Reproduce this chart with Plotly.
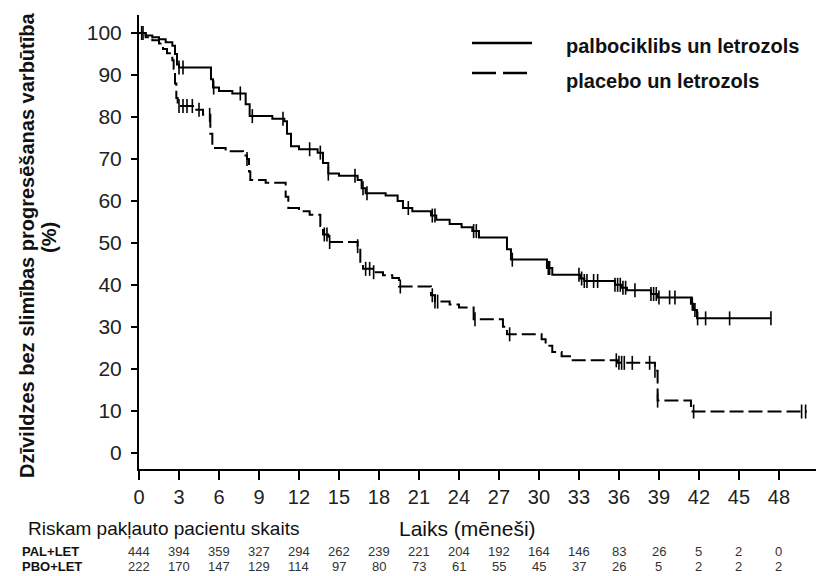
import numpy as np
import plotly.graph_objects as go

# ---------------- data ----------------
months_ticks = list(range(0, 49, 3))

pal_times = [0, 0.5, 1.0, 1.5, 2.0, 2.5, 2.7, 2.85, 3.0, 5.4, 5.55, 6.0, 7.0, 8.0, 8.3,
             10.0, 10.9, 11.1, 11.4, 12.0, 13.4, 13.8, 14.2, 15.0, 16.4, 16.7, 17.0,
             18.5, 19.4, 19.8, 20.5, 21.9, 22.3, 23.3, 24.2, 25.0, 25.5, 27.6, 27.9,
             30.6, 31.0, 33.1, 33.4, 35.7, 36.2, 36.6, 38.4, 38.9, 41.4, 41.6, 41.85, 47.4]
pal_surv = [100, 99.4, 99.0, 98.5, 97.8, 97.0, 95.0, 92.5, 91.8, 89.0, 87.0, 86.2, 85.6, 83.0, 80.2,
            79.6, 79.0, 76.0, 73.0, 72.3, 71.5, 69.0, 66.5, 66.0, 65.0, 63.0, 61.8,
            61.3, 60.0, 58.3, 57.5, 56.5, 55.5, 54.5, 53.7, 52.8, 51.3, 48.5, 46.0,
            44.0, 42.4, 41.5, 40.9, 40.0, 39.3, 38.7, 37.8, 37.0, 35.5, 34.0, 32.0, 32.0]
pal_censor = [0.2, 3.0, 3.3, 5.6, 7.6, 8.5, 10.8, 12.8, 13.6, 14.2, 16.2, 16.8, 17.1,
              20.2, 22.0, 22.2, 25.1, 25.3, 28.0, 30.7, 30.8, 33.0, 33.2, 33.4, 33.6,
              34.1, 34.4, 35.7, 35.9, 36.1, 36.3, 36.5, 37.2, 38.4, 38.6, 38.8, 39.0,
              39.8, 40.2, 41.5, 41.7, 41.9, 42.5, 44.3, 47.4]

pbo_times = [0, 0.5, 1.0, 1.5, 1.8, 2.1, 2.5, 2.6, 2.7, 2.8, 2.9, 4.3, 4.8, 5.35, 5.5,
             6.5, 7.8, 8.1, 8.25, 8.35, 9.5, 11.0, 11.2, 12.0, 12.8, 13.6, 13.8, 14.2,
             16.4, 16.6, 16.8, 17.5, 18.3, 19.0, 19.5, 21.9, 22.2, 23.3, 24.0, 25.1,
             27.3, 27.6, 30.2, 30.5, 31.0, 31.7, 32.4, 35.9, 38.7, 38.9, 41.4, 50.1]
pbo_surv = [100, 99.0, 98.3, 97.5, 96.2, 95.2, 93.5, 91.5, 88.0, 84.5, 82.6, 81.7, 80.5, 76.0, 72.6,
            71.8, 70.8, 70.0, 67.0, 65.0, 64.3, 61.0, 58.3, 57.5, 56.7, 54.0, 52.0, 50.2,
            49.2, 45.0, 43.8, 43.0, 42.3, 41.6, 39.6, 37.5, 36.0, 35.3, 34.6, 31.8,
            30.0, 28.2, 27.0, 25.5, 24.0, 23.0, 22.0, 21.4, 19.5, 12.4, 9.8, 9.8]
pbo_censor = [0.3, 3.0, 3.3, 3.6, 4.0, 4.5, 5.3, 8.1, 13.9, 14.1, 14.3, 16.4, 17.0, 17.3,
              17.6, 19.6, 22.0, 22.2, 22.4, 25.2, 27.8, 35.8, 36.0, 36.2, 36.4, 37.0,
              38.3, 38.7, 38.9, 41.6, 49.7, 50.0]

risk_pal = [444, 394, 359, 327, 294, 262, 239, 221, 204, 192, 164, 146, 83, 26, 5, 2, 0]
risk_pbo = [222, 170, 147, 129, 114, 97, 80, 73, 61, 55, 45, 37, 26, 5, 2, 2, 2]

series_names = ["palbociklibs un letrozols", "placebo un letrozols"]
y_title = "Dzīvildzes bez slimības progresēšanas varbūtība"
x_title = "Laiks (mēneši)"
risk_title = "Riskam pakļauto pacientu skaits"
risk_labels = ["PAL+LET", "PBO+LET"]


def step_value(times, surv, t):
    i = np.searchsorted(np.array(times), t, side="right") - 1
    return surv[max(i, 0)]


FONT = "Liberation Sans, Arial, sans-serif"

W, H = 816, 576
L, R, T, B = 139, 0, 15, 107
PW, PH = W - L - R, H - T - B


def px(xp):
    return (xp - L) / PW


def py(yp):
    return (H - B - yp) / PH


fig = go.Figure()

fig.add_trace(go.Scatter(x=pal_times, y=pal_surv, mode="lines", line_shape="hv",
                         line=dict(color="black", width=2), showlegend=False,
                         name=series_names[0]))
fig.add_trace(go.Scatter(x=pbo_times, y=pbo_surv, mode="lines", line_shape="hv",
                         line=dict(color="black", width=2, dash="14px,5px"), showlegend=False,
                         name=series_names[1]))
fig.add_trace(go.Scatter(x=pal_censor, y=[step_value(pal_times, pal_surv, t) for t in pal_censor],
                         mode="markers", marker=dict(symbol="line-ns", size=10,
                                                     line=dict(color="black", width=1.6)),
                         showlegend=False, hoverinfo="skip"))
fig.add_trace(go.Scatter(x=pbo_censor, y=[step_value(pbo_times, pbo_surv, t) for t in pbo_censor],
                         mode="markers", marker=dict(symbol="line-ns", size=10,
                                                     line=dict(color="black", width=1.6)),
                         showlegend=False, hoverinfo="skip"))

fig.update_xaxes(range=[0, 50.78], tickmode="array", tickvals=months_ticks,
                 ticktext=[str(v) for v in months_ticks],
                 showline=True, linecolor="black", linewidth=2, ticks="outside",
                 ticklen=9, tickwidth=2, tickcolor="black", showgrid=False, zeroline=False,
                 tickfont=dict(family=FONT, size=20, color="#222"))
fig.update_yaxes(range=[-3.9, 104.3], tickmode="array", tickvals=list(range(0, 101, 10)),
                 showline=True, linecolor="black", linewidth=2, ticks="outside",
                 ticklen=6, tickwidth=1.5, tickcolor="black", showgrid=False, zeroline=False,
                 ticklabelstandoff=5,
                 tickfont=dict(family=FONT, size=21, color="#222"))

ann = []
ann.append(dict(text=y_title, xref="paper", yref="paper", x=px(27), y=py(246),
                textangle=-90, showarrow=False, xanchor="center", yanchor="middle",
                font=dict(family=FONT, size=20, color="#111", weight="bold")))
ann.append(dict(text="(%)", xref="paper", yref="paper", x=px(49), y=py(238),
                textangle=-90, showarrow=False, xanchor="center", yanchor="middle",
                font=dict(family=FONT, size=20, color="#111", weight="bold")))
# legend
fig.add_shape(type="line", xref="paper", yref="paper", x0=px(472), x1=px(532), y0=py(43), y1=py(43),
              line=dict(color="black", width=2.5))
fig.add_shape(type="line", xref="paper", yref="paper", x0=px(472), x1=px(532), y0=py(73), y1=py(73),
              line=dict(color="black", width=2.5, dash="24px,7px"))
ann.append(dict(text=series_names[0], xref="paper", yref="paper", x=px(564), y=py(46),
                showarrow=False, xanchor="left", yanchor="middle",
                font=dict(family=FONT, size=20, color="#111", weight="bold")))
ann.append(dict(text=series_names[1], xref="paper", yref="paper", x=px(564), y=py(81),
                showarrow=False, xanchor="left", yanchor="middle",
                font=dict(family=FONT, size=20, color="#111", weight="bold")))
# bottom texts
ann.append(dict(text=risk_title, xref="paper", yref="paper", x=px(26), y=py(528),
                showarrow=False, xanchor="left", yanchor="middle",
                font=dict(family=FONT, size=19, color="#111")))
ann.append(dict(text=x_title, xref="paper", yref="paper", x=px(467), y=py(528),
                showarrow=False, xanchor="center", yanchor="middle",
                font=dict(family=FONT, size=21, color="#111")))
for lab, row, ypix in [(risk_labels[0], risk_pal, 551), (risk_labels[1], risk_pbo, 566)]:
    ann.append(dict(text=lab, xref="paper", yref="paper", x=px(20), y=py(ypix),
                    showarrow=False, xanchor="left", yanchor="middle",
                    font=dict(family=FONT, size=13, color="#111", weight="bold")))
    for m, v in zip(months_ticks, row):
        ann.append(dict(text=str(v), xref="x", yref="paper", x=m, y=py(ypix),
                        showarrow=False, xanchor="center", yanchor="middle",
                        font=dict(family=FONT, size=13, color="#333")))

fig.update_layout(width=W, height=H, margin=dict(l=L, r=R, t=T, b=B),
                  paper_bgcolor="white", plot_bgcolor="white", annotations=ann,
                  font=dict(family=FONT))

fig.write_html("out.html", config={"displayModeBar": False},
               post_script="document.body.style.margin='0';document.body.style.overflow='hidden';")
